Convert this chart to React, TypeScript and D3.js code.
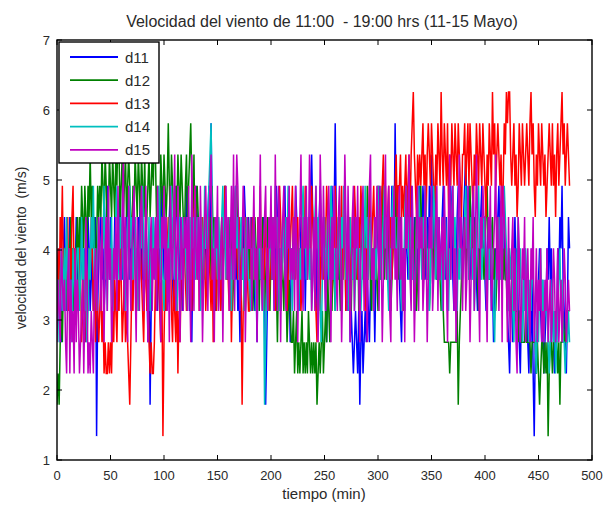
import React from 'react';
import * as d3 from 'd3';

// ---------- data (wind speed recorded in whole mph, plotted in m/s) ----------
const MPH_TO_MS = 0.44704;
const SERIES_NAMES = ['d11', 'd12', 'd13', 'd14', 'd15'];
const SERIES_COLORS = ['#0000ff', '#008000', '#ff0000', '#00bfbf', '#bf00bf'];
const X_TICKS = [0, 50, 100, 150, 200, 250, 300, 350, 400, 450, 500];
const Y_TICKS = [1, 2, 3, 4, 5, 6, 7];
const TITLE = 'Velocidad del viento de 11:00  - 19:00 hrs (11-15 Mayo)';
const X_LABEL = 'tiempo (min)';
const Y_LABEL = 'velocidad del viento  (m/s)';

const d11 = [
  8,7,9,8,6,7,9,10,8,7,9,8,10,7,8,9,7,8,10,9,
  7,9,8,10,8,7,9,6,8,10,9,7,8,9,7,8,10,3,7,9,
  9,10,8,9,7,8,10,11,9,8,10,9,7,8,10,9,8,10,9,11,
  9,8,10,7,9,10,11,9,8,10,9,8,10,9,7,8,10,9,11,8,
  9,7,8,10,8,6,9,4,7,8,10,9,8,10,7,9,8,10,11,9,
  8,10,7,9,8,10,11,9,8,7,9,10,11,9,8,10,9,7,8,10,
  9,11,8,9,7,8,6,9,10,8,11,10,9,8,10,9,7,8,10,9,
  8,10,11,9,13,10,8,9,7,9,10,8,9,7,8,10,9,11,10,8,
  9,8,10,7,9,11,10,8,9,7,8,6,9,10,8,11,10,9,8,10,
  7,9,10,8,9,7,8,6,9,10,8,9,7,10,8,4,6,8,9,10,
  9,8,10,7,9,11,10,8,9,7,8,10,9,11,8,9,7,8,6,9,
  8,10,9,11,10,8,9,7,10,9,8,10,7,9,8,10,9,11,12,10,
  9,8,10,7,9,10,11,9,8,10,9,7,6,8,9,10,8,11,9,10,
  13,10,9,8,10,7,9,8,10,11,9,8,7,9,6,7,6,5,6,7,
  6,5,7,4,6,7,5,6,7,6,8,7,6,8,7,9,8,6,8,9,
  10,11,9,8,10,9,11,10,8,9,10,8,9,11,10,9,13,10,11,9,
  8,7,6,8,9,7,10,9,8,9,10,11,9,8,10,7,8,9,10,11,
  10,9,11,10,8,9,10,8,11,9,12,10,9,11,10,8,9,10,8,9,
  10,11,9,8,10,7,8,9,11,10,8,7,9,8,10,11,9,10,8,9,
  10,11,12,10,9,11,8,9,10,11,9,10,8,7,9,8,10,11,9,10,
  8,7,9,10,8,9,7,8,6,7,9,8,10,11,9,10,8,9,10,8,
  9,7,6,5,7,8,6,9,10,8,9,7,6,5,7,6,8,9,7,8,
  6,5,7,6,8,5,3,6,5,7,8,9,7,6,8,5,6,7,9,8,
  10,8,9,7,6,5,7,6,9,8,10,9,11,8,7,6,5,7,10,9,
];

const d12 = [
  4,5,4,6,7,6,8,9,7,8,9,7,9,10,8,9,7,8,9,10,
  8,10,9,11,10,9,11,10,9,11,10,12,10,11,9,10,8,9,11,10,
  11,10,12,11,10,12,11,9,10,12,11,10,12,11,10,12,11,13,12,10,
  11,12,10,11,12,10,11,12,11,10,9,11,10,12,11,10,12,11,10,12,
  11,10,12,9,10,11,12,10,11,12,11,13,12,10,11,9,10,12,11,10,
  12,11,10,11,13,11,10,12,11,10,9,11,10,12,11,10,12,11,10,9,
  11,12,10,11,12,13,11,10,12,9,10,11,10,8,9,10,8,9,10,9,
  10,8,9,10,8,11,9,10,8,7,9,10,8,9,10,8,9,11,10,8,
  9,8,10,9,7,8,10,9,11,9,10,8,9,10,8,9,7,8,10,9,
  8,10,9,7,8,10,9,8,10,7,9,8,10,9,7,8,9,10,8,7,
  9,8,10,9,7,8,6,8,9,7,9,8,7,9,8,6,7,8,7,6,
  6,7,5,6,7,5,6,5,6,7,5,6,5,6,5,7,6,5,6,5,
  6,5,6,4,5,6,5,6,7,5,6,7,6,8,7,6,8,7,9,8,
  7,9,8,10,8,7,9,8,10,9,7,8,9,10,8,7,9,8,10,9,
  8,10,7,8,9,10,8,9,10,8,11,9,10,8,7,9,8,10,9,8,
  7,9,8,10,11,9,8,10,9,8,10,9,7,8,9,10,11,9,10,8,
  9,10,8,9,7,8,10,9,11,10,8,9,10,8,9,10,7,8,9,10,
  11,9,10,8,9,10,8,9,7,8,10,9,8,10,9,8,10,9,8,7,
  8,7,6,6,6,6,6,5,6,6,6,6,6,6,7,4,6,7,8,9,
  9,10,8,9,10,8,11,9,10,8,9,10,9,8,7,9,8,10,9,8,
  9,10,11,9,8,10,9,10,8,9,7,8,10,9,8,10,9,8,9,8,
  8,7,8,7,7,8,7,7,7,7,7,6,7,7,6,6,6,6,7,6,
  6,6,6,5,6,6,6,6,5,6,5,4,5,6,6,5,6,5,6,3,
  5,6,6,5,6,6,6,6,5,6,4,6,6,7,6,6,7,7,7,7,
];

const d13 = [
  8,9,7,10,9,11,8,7,9,8,10,7,9,8,10,11,8,9,7,8,
  7,9,8,6,7,8,6,9,8,7,9,8,10,9,7,8,6,8,7,6,
  7,8,6,7,5,6,5,5,6,5,6,5,7,6,8,7,6,8,7,9,
  8,6,7,8,6,7,6,5,4,6,8,7,9,10,8,9,7,8,9,8,
  7,6,8,9,7,8,6,5,6,5,5,6,8,7,9,8,7,6,8,3,
  6,8,7,9,10,8,9,7,6,8,7,6,8,5,7,6,8,9,10,9,
  8,7,9,8,10,9,7,9,10,11,9,8,10,7,8,9,10,8,9,7,
  8,10,9,8,7,9,6,8,9,7,10,8,9,7,8,10,9,11,8,9,
  8,7,9,6,8,9,10,11,9,8,10,9,8,4,7,8,10,9,8,7,
  7,9,8,10,8,9,7,8,10,9,11,8,9,7,9,10,8,9,7,8,
  9,10,8,9,7,8,10,9,11,10,8,9,10,8,9,7,8,10,9,10,
  11,9,10,8,9,10,8,9,7,8,10,9,11,10,8,9,10,8,11,10,
  9,8,7,6,8,9,7,10,9,8,10,9,11,10,8,9,7,8,10,9,
  11,10,8,9,10,9,11,8,9,10,7,9,8,10,9,8,10,9,11,10,
  9,8,10,9,11,10,9,8,7,9,10,8,11,10,9,10,11,9,8,10,
  11,10,9,10,11,12,10,11,9,10,11,9,10,8,9,10,11,12,10,11,
  11,12,10,11,10,11,12,10,11,12,10,12,13,14,12,11,10,12,11,12,
  11,12,13,11,12,10,12,13,12,11,13,12,11,10,12,11,13,12,11,14,
  12,11,13,12,11,13,10,12,11,13,12,11,13,12,11,13,12,11,10,12,
  12,13,11,12,13,11,13,12,11,10,12,11,13,12,11,13,12,11,13,12,
  11,10,12,11,13,12,11,14,12,13,11,12,13,12,11,12,10,11,13,12,
  14,13,14,14,12,11,12,13,11,12,10,11,13,12,11,13,12,11,12,13,
  12,11,13,14,12,13,11,10,12,11,13,12,11,13,12,11,12,10,11,12,
  13,12,11,13,11,12,10,12,13,11,12,13,14,12,13,11,12,13,12,11,
];

const d14 = [
  7,8,6,8,9,7,8,9,7,10,8,9,7,8,6,9,8,7,8,9,
  9,7,8,10,8,9,7,8,6,7,9,8,10,9,11,8,9,7,9,10,
  9,8,10,9,11,8,9,7,10,9,8,10,7,9,8,10,11,9,8,10,
  9,10,8,9,7,9,10,8,11,9,10,8,9,10,8,9,7,8,10,9,
  11,9,8,10,9,8,10,7,9,8,10,9,8,10,9,11,10,8,9,8,
  7,9,10,8,9,10,8,11,9,10,8,9,7,8,10,9,8,10,9,10,
  9,8,7,9,10,8,11,9,10,8,9,10,8,9,7,10,9,8,11,9,
  9,10,11,12,13,10,9,8,10,9,8,10,9,8,10,11,9,10,8,9,
  10,8,9,7,9,8,10,11,9,10,8,9,10,8,9,7,8,10,9,8,
  8,7,9,8,10,9,7,8,9,10,8,9,7,8,4,6,8,7,9,10,
  9,8,10,9,11,9,10,8,7,9,8,10,9,8,10,9,11,10,8,9,
  7,9,8,10,9,8,7,9,8,10,11,9,10,8,9,10,8,9,7,8,
  9,10,11,9,10,8,7,6,8,9,10,8,9,10,8,9,11,10,8,9,
  7,9,8,10,9,8,10,9,11,10,8,9,7,8,10,9,8,9,7,8,
  9,10,8,9,7,8,10,9,11,9,10,8,9,10,8,9,7,9,8,10,
  11,9,10,8,9,10,11,9,10,8,7,9,8,10,11,9,10,8,9,10,
  9,8,7,9,8,10,11,9,10,8,9,10,8,9,7,8,10,9,11,10,
  9,8,10,9,11,10,8,9,7,8,10,9,11,10,8,9,10,9,8,9,
  7,9,8,10,9,8,7,9,8,10,11,9,10,8,7,9,8,10,9,8,
  9,10,11,9,10,8,9,10,8,9,7,8,9,10,11,9,10,8,9,10,
  9,8,7,9,8,10,9,8,7,6,8,9,8,10,9,8,10,9,11,10,
  9,8,7,9,8,9,7,6,8,7,9,10,8,9,7,6,8,7,9,8,
  7,6,8,7,9,8,7,6,5,7,6,8,9,7,8,6,7,8,7,6,
  5,6,7,8,6,7,5,6,7,8,9,7,8,6,6,5,6,6,7,6,
];

const d15 = [
  6,8,7,6,9,8,7,8,6,5,8,9,5,8,6,7,5,9,6,8,
  7,5,6,7,8,5,7,10,8,5,6,5,7,6,5,8,9,7,8,10,
  9,7,10,8,6,9,10,7,11,8,9,6,7,9,8,10,7,11,9,8,
  8,10,12,7,10,8,6,11,9,7,9,10,11,8,6,10,9,7,10,11,
  9,7,8,11,9,6,8,9,10,7,9,8,10,7,11,9,8,6,10,9,
  11,8,10,7,9,6,11,9,8,10,12,7,9,11,8,6,10,9,7,10,
  9,10,7,11,8,6,12,9,7,11,9,8,10,7,11,9,6,8,10,11,
  9,7,10,11,12,8,9,6,10,9,11,7,8,9,10,6,9,10,11,8,
  10,7,9,11,8,12,7,10,12,11,9,7,8,9,11,10,6,8,10,9,
  9,10,7,9,11,8,9,6,10,9,12,8,7,9,10,11,8,7,10,9,
  11,8,10,7,12,9,7,11,10,6,9,10,11,8,7,10,9,11,8,9,
  8,10,7,11,9,6,9,10,12,8,7,10,9,11,8,9,12,10,7,8,
  10,7,11,9,6,8,12,10,8,11,9,7,8,10,11,9,6,10,8,11,
  10,8,7,10,11,9,6,8,9,12,10,7,11,9,6,8,10,11,7,10,
  9,11,8,6,9,10,11,7,9,8,6,10,11,12,8,9,7,10,9,11,
  10,7,11,9,6,8,10,12,8,10,11,7,6,10,9,11,8,9,7,10,
  11,8,10,7,9,6,11,9,10,12,8,7,11,9,6,8,10,11,7,10,
  9,10,7,8,11,9,6,8,10,9,11,7,8,9,10,11,7,10,8,9,
  10,7,11,9,8,6,10,12,8,10,11,7,9,6,8,10,12,9,10,7,
  9,10,7,8,11,9,6,8,10,11,7,9,12,10,8,6,10,9,11,10,
  10,8,6,10,9,11,7,8,9,10,12,8,10,7,9,11,6,11,10,9,
  8,6,10,7,6,9,10,7,9,6,5,10,9,6,7,9,8,10,6,8,
  9,7,6,9,8,10,6,7,9,6,8,7,9,6,7,6,8,7,9,6,
  7,8,6,7,9,8,6,7,9,6,7,8,6,7,9,8,6,7,8,7,
];

const SERIES_DATA = [d11, d12, d13, d14, d15];

// ---------- layout ----------
const W = 606;
const H = 505;
const PL = 57, PR = 592, PT = 40, PB = 460;
const FONT = 'Liberation Sans, Arial, sans-serif';
const TXT = '#2a2a2a';

export default function App() {
  const x = d3.scaleLinear().domain([0, 500]).range([PL, PR]);
  const y = d3.scaleLinear().domain([1, 7]).range([PB, PT]);
  const line = d3
    .line<number>()
    .x((_, i) => x(i))
    .y((v) => y(v * MPH_TO_MS));

  const tickLen = 5;

  return (
    <svg
      width={W}
      height={H}
      style={{ position: 'absolute', left: 0, top: 0, background: '#fff' }}
      fontFamily={FONT}
    >
      <rect x={0} y={0} width={W} height={H} fill="#fff" />
      <defs>
        <clipPath id="plotclip">
          <rect x={PL} y={PT} width={PR - PL} height={PB - PT} />
        </clipPath>
      </defs>

      <g clipPath="url(#plotclip)">
        {SERIES_DATA.map((arr, k) => (
          <path
            key={SERIES_NAMES[k]}
            d={line(arr) || ''}
            fill="none"
            stroke={SERIES_COLORS[k]}
            strokeWidth={1.5}
            strokeLinejoin="miter"
          />
        ))}
      </g>

      {/* axes box */}
      <rect x={PL} y={PT} width={PR - PL} height={PB - PT} fill="none" stroke="#000" strokeWidth={1.4} />

      {/* x ticks */}
      {X_TICKS.map((t) => (
        <g key={'x' + t}>
          <line x1={x(t)} x2={x(t)} y1={PB} y2={PB - tickLen} stroke="#000" />
          <line x1={x(t)} x2={x(t)} y1={PT} y2={PT + tickLen} stroke="#000" />
          <text x={x(t)} y={480} textAnchor="middle" fontSize={13} fill={TXT}>
            {t}
          </text>
        </g>
      ))}

      {/* y ticks */}
      {Y_TICKS.map((t) => (
        <g key={'y' + t}>
          <line x1={PL} x2={PL + tickLen} y1={y(t)} y2={y(t)} stroke="#000" />
          <line x1={PR} x2={PR - tickLen} y1={y(t)} y2={y(t)} stroke="#000" />
          <text x={50} y={y(t) + 4.5} textAnchor="end" fontSize={13} fill={TXT}>
            {t}
          </text>
        </g>
      ))}

      {/* title & labels */}
      <text x={322} y={27} textAnchor="middle" fontSize={16} fill={TXT} style={{ whiteSpace: 'pre' }}>
        {TITLE}
      </text>
      <text x={324} y={499} textAnchor="middle" fontSize={15} fill={TXT}>
        {X_LABEL}
      </text>
      <text
        transform={`translate(26, 248) rotate(-90)`}
        textAnchor="middle"
        fontSize={14}
        fill={TXT}
        style={{ whiteSpace: 'pre' }}
      >
        {Y_LABEL}
      </text>

      {/* legend */}
      <g>
        <rect x={59} y={42} width={100} height={121} fill="#fff" stroke="#000" strokeWidth={1.4} />
        {SERIES_NAMES.map((name, k) => {
          const ly = 57 + k * 23.2;
          return (
            <g key={'lg' + name}>
              <line x1={70} x2={118} y1={ly} y2={ly} stroke={SERIES_COLORS[k]} strokeWidth={1.8} />
              <text x={125} y={ly + 5.5} fontSize={15} fill={TXT}>
                {name}
              </text>
            </g>
          );
        })}
      </g>
    </svg>
  );
}
